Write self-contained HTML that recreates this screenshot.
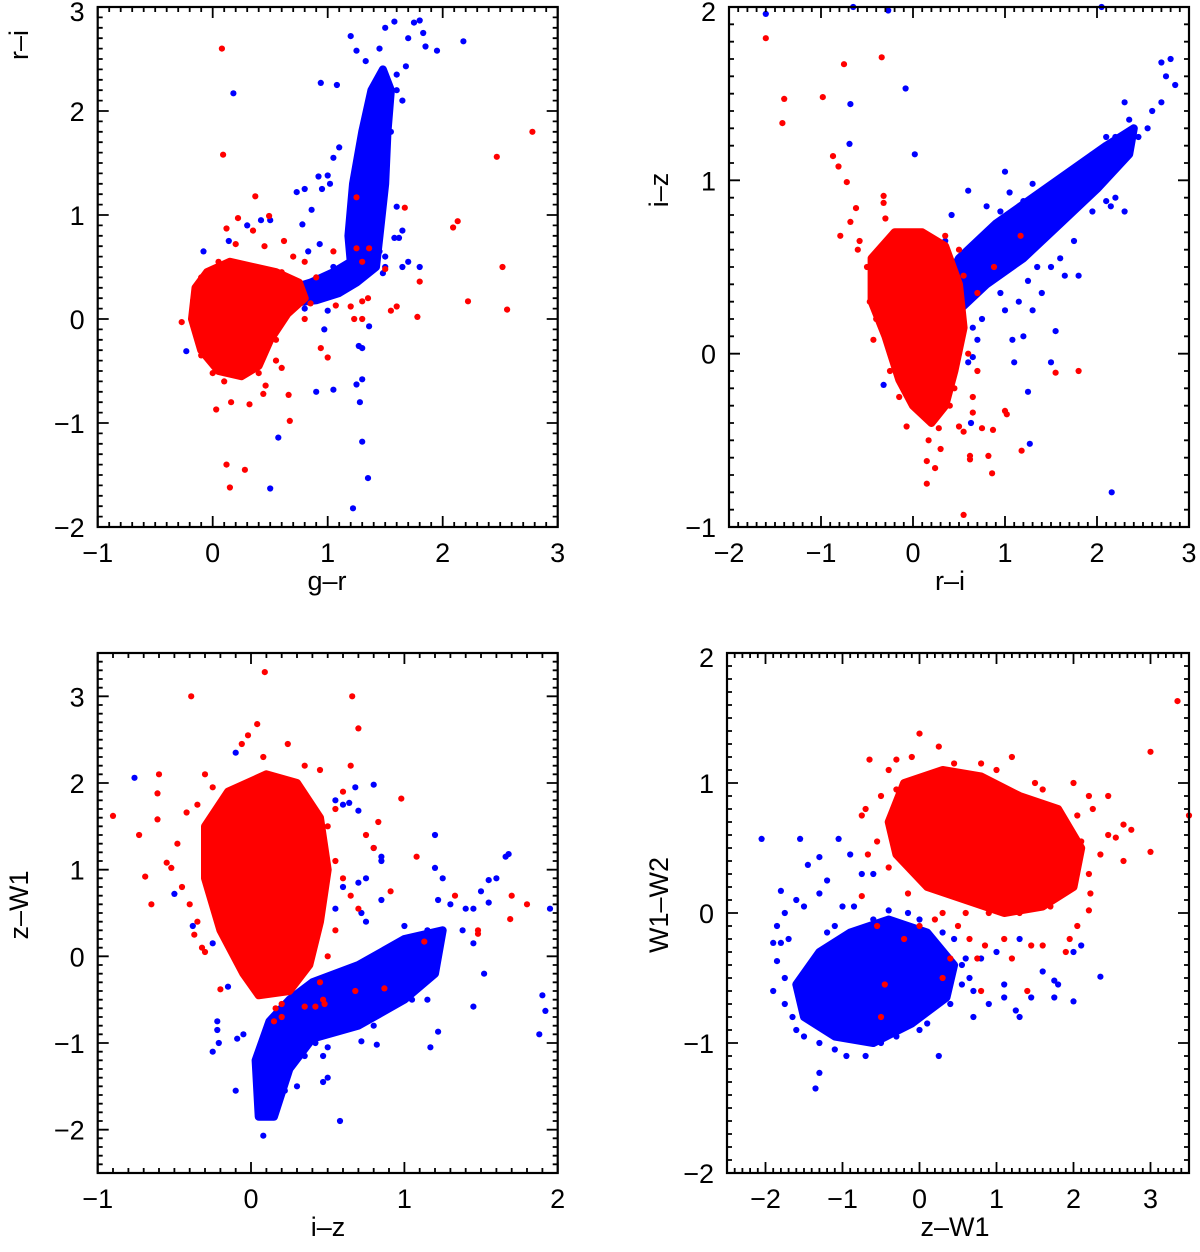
<!DOCTYPE html>
<html><head><meta charset="utf-8">
<style>
html,body{margin:0;padding:0;background:#fff;}
svg{display:block;font-family:"Liberation Sans",Arial,sans-serif;}
</style></head>
<body>
<svg id="fig" width="1200" height="1252" viewBox="0 0 1200 1252" xmlns="http://www.w3.org/2000/svg"></svg>
<script>
// ---------------- Panel 1: g-r vs r-i ----------------
const p1XTicks = [-1, 0, 1, 2, 3];
const p1YTicks = [-2, -1, 0, 1, 2, 3];
const p1RedCoreX = [-0.15,-0.05,0.15,0.35,0.55,0.75,0.8,0.65,0.5,0.4,0.25,0.05,-0.1,-0.18];
const p1RedCoreY = [0.3,0.45,0.55,0.5,0.45,0.35,0.2,0.05,-0.2,-0.45,-0.55,-0.5,-0.3,0.0];
const p1BlueCoreX = [0.65,0.9,1.1,1.25,1.42,1.45,1.5,1.52,1.55,1.48,1.38,1.3,1.22,1.18,1.2,1.05,0.85,0.7];
const p1BlueCoreY = [0.15,0.18,0.25,0.35,0.5,0.8,1.3,1.8,2.2,2.4,2.2,1.8,1.3,0.8,0.55,0.45,0.35,0.3];
const p1RedX = [0.08,0.09,0.37,0.49,1.67,2.13,2.09,2.47,2.78,2.52,2.22,2.56,1.78,1.8,1.6,1.55,1.5,1.35,1.3,1.3,1.23,1.2,1.07,1.05,1.25,1.25,1.36,1.3,-0.27,-0.17,0.03,0.16,0.32,0.66,0.67,0.12,0.28,0.15,0.44,0.46,1.0,0.94,0.6,0.55,0.8,0.85,0.75,0.9,0.7,0.62,0.35,0.12,0.22,0.2,0.45,-0.1,-0.12,-0.1,0.0,0.1,0.25,0.4,0.8,0.7,0.55,0.6,0.05,-0.05];
const p1RedY = [2.6,1.58,1.18,0.99,1.07,0.94,0.88,1.56,1.8,0.5,0.17,0.09,0.02,0.36,0.12,0.08,0.48,0.2,0.17,0.0,0.0,0.12,0.13,0.65,1.17,0.68,0.68,0.55,-0.03,0.18,-0.87,-0.8,-0.82,-0.73,-0.98,-1.4,-1.45,-1.62,-0.72,-0.64,-0.37,-0.28,-0.47,-0.4,0.0,0.15,0.35,0.4,0.6,0.75,0.85,0.87,0.97,0.72,0.7,0.4,-0.1,-0.35,-0.52,-0.6,-0.55,-0.52,0.55,0.1,-0.2,0.45,0.55,-0.3];
const p1BlueX = [0.18,0.94,1.08,1.2,1.25,1.33,1.45,1.5,1.58,1.7,1.75,1.8,1.83,1.85,1.95,2.18,1.68,1.6,1.6,1.65,1.55,1.1,1.05,1.0,0.92,0.8,0.73,0.86,0.95,1.02,1.6,1.65,1.62,1.58,1.8,1.7,1.65,1.5,1.48,0.5,0.42,0.3,0.14,-0.08,-0.12,-0.23,0.78,0.83,0.93,1.36,1.3,1.27,1.25,1.3,1.28,1.3,1.35,1.22,0.57,0.5,1.05,0.9,0.97,1.0,0.8,1.2,1.45,1.5,1.05,1.1,0.95];
const p1BlueY = [2.17,2.27,2.25,2.72,2.58,2.48,2.6,2.8,2.86,2.7,2.85,2.87,2.75,2.62,2.58,2.67,2.43,2.35,2.2,2.1,1.8,1.65,1.55,1.38,1.37,1.25,1.22,1.05,1.25,1.3,1.08,0.85,0.78,0.78,0.5,0.55,0.5,0.5,0.44,0.95,0.95,0.9,0.75,0.65,0.3,-0.31,0.91,0.65,0.72,-0.07,-0.28,-0.26,-0.63,-0.58,-0.8,-1.18,-1.53,-1.82,-1.14,-1.63,-0.68,-0.7,-0.1,0.08,0.1,0.6,0.65,0.6,0.5,0.3,0.3];

// ---------------- Panel 2: r-i vs i-z ----------------
const p2XTicks = [-2, -1, 0, 1, 2, 3];
const p2YTicks = [-1, 0, 1, 2];
const p2RedCoreX = [-0.45,-0.2,0.1,0.35,0.5,0.55,0.45,0.35,0.2,0.0,-0.15,-0.3,-0.45];
const p2RedCoreY = [0.55,0.7,0.7,0.62,0.4,0.15,-0.1,-0.3,-0.4,-0.3,-0.15,0.1,0.3];
const p2BlueCoreX = [0.4,0.8,1.2,1.6,2.0,2.35,2.4,2.1,1.7,1.3,0.9,0.5,0.35];
const p2BlueCoreY = [0.2,0.4,0.55,0.75,0.95,1.15,1.3,1.2,1.05,0.9,0.75,0.55,0.4];
const p2RedX = [-1.6,-1.4,-1.42,-0.98,-0.75,-0.34,-0.87,-0.81,-0.72,-0.32,-0.32,-0.62,-0.68,-0.79,-0.58,-0.6,-0.5,-0.45,-0.47,-0.4,-0.43,-0.3,-0.2,0.35,0.5,0.55,0.6,0.7,0.65,0.65,0.5,0.55,0.28,0.17,-0.07,0.15,0.24,0.15,0.62,0.62,0.82,0.86,0.55,0.75,0.87,1.0,1.02,1.18,1.55,1.8,1.17,0.88,0.7,0.4,0.45,-0.25,-0.15,0.3];
const p2RedY = [1.82,1.47,1.33,1.48,1.67,1.71,1.14,1.08,0.99,0.91,0.87,0.84,0.76,0.68,0.65,0.6,0.5,0.4,0.3,0.2,0.08,0.78,0.7,0.68,0.6,0.45,0.0,-0.1,-0.25,-0.34,-0.42,-0.45,-0.43,-0.5,-0.42,-0.62,-0.66,-0.75,-0.59,-0.61,-0.59,-0.69,-0.93,-0.43,-0.44,-0.33,-0.35,-0.56,-0.11,-0.1,0.68,0.5,0.35,-0.3,-0.2,-0.1,-0.25,-0.55];
const p2BlueX = [-1.6,-0.65,-0.27,2.05,-0.08,-0.68,-0.69,0.02,-0.32,0.6,0.42,0.35,0.8,0.95,1.0,1.3,1.05,1.2,1.6,1.75,1.6,1.65,1.5,1.8,1.35,1.25,1.4,1.3,1.15,1.0,1.2,1.55,1.08,1.1,1.5,1.25,0.95,0.75,0.65,0.7,0.65,0.6,0.5,1.27,0.63,2.16,2.2,2.3,2.15,2.1,1.95,2.1,1.95,2.3,2.6,2.7,2.75,2.85,2.7,2.8,2.55,2.45,2.2,2.35];
const p2BlueY = [1.96,2.0,1.98,2.0,1.53,1.44,1.21,1.15,-0.18,0.94,0.8,0.65,0.85,0.82,1.05,0.98,0.93,0.88,0.97,0.65,0.55,0.45,0.5,0.45,0.5,0.42,0.35,0.25,0.3,0.25,0.1,0.13,0.08,-0.05,-0.05,-0.22,0.35,0.2,0.15,0.08,-0.02,-0.05,0.0,-0.52,-0.4,-0.8,0.9,0.82,0.85,0.88,0.82,1.25,1.15,1.45,1.4,1.45,1.6,1.55,1.68,1.7,1.3,1.25,1.25,1.35];

// ---------------- Panel 3: i-z vs z-W1 ----------------
const p3XTicks = [-1, 0, 1, 2];
const p3YTicks = [-2, -1, 0, 1, 2, 3];
const p3RedCoreX = [-0.3,-0.15,0.1,0.3,0.45,0.5,0.45,0.38,0.25,0.05,-0.05,-0.2,-0.3];
const p3RedCoreY = [1.5,1.9,2.1,2.0,1.6,1.0,0.4,-0.1,-0.4,-0.45,-0.2,0.3,0.9];
const p3BlueCoreX = [0.05,0.15,0.25,0.4,0.7,1.0,1.2,1.25,1.0,0.7,0.4,0.25,0.12,0.03];
const p3BlueCoreY = [-1.85,-1.85,-1.3,-0.95,-0.8,-0.5,-0.2,0.3,0.2,-0.1,-0.3,-0.5,-0.75,-1.2];
const p3RedX = [0.09,-0.39,0.66,0.7,0.04,-0.02,-0.06,0.24,0.08,-0.6,-0.3,-0.9,-0.73,-0.61,-0.61,-0.42,-0.55,-0.52,-0.69,-0.65,-0.4,-0.37,-0.32,-0.3,0.98,0.83,0.75,0.8,1.08,0.91,0.65,0.6,0.55,0.5,0.55,0.6,0.65,0.7,0.55,0.5,0.45,1.8,1.7,1.69,1.48,1.48,1.33,1.13,0.87,0.68,0.48,0.42,0.47,0.35,0.2,0.16,0.2,0.15,-0.2,-0.22,-0.35,-0.45,-0.48,-0.35,-0.25,0.35,0.45];
const p3RedY = [3.28,3.0,3.0,2.63,2.68,2.55,2.45,2.45,2.3,2.1,2.1,1.62,1.4,1.88,1.58,1.66,1.08,1.02,0.92,0.6,0.6,0.25,0.1,0.05,1.82,1.55,1.4,1.25,1.15,0.75,2.2,1.9,1.7,1.5,1.1,0.9,0.7,0.55,0.3,0.0,-0.3,0.6,0.7,0.43,0.3,0.26,0.7,0.17,-0.37,-0.4,-0.55,-0.58,-0.5,-0.58,-0.55,-0.6,-0.7,-0.75,-0.38,0.4,0.4,0.8,1.3,1.75,1.95,2.2,2.15];
const p3BlueX = [-0.76,-0.1,0.8,0.68,0.64,0.7,0.6,0.55,0.8,0.85,0.85,0.7,0.75,0.6,0.55,0.85,0.75,0.72,-0.5,-0.38,-0.24,-0.25,-0.15,-0.22,-0.22,-0.21,-0.25,-0.09,-0.05,-0.1,0.08,0.58,0.47,0.5,0.47,0.3,0.22,0.2,1.2,1.2,1.25,1.66,1.68,1.6,1.55,1.5,1.55,1.45,1.4,1.3,1.22,1.38,1.45,1.15,1.0,1.95,1.9,1.92,1.88,1.45,1.52,1.15,1.05,1.22,1.17,0.82,0.72,0.8,0.9,0.35,0.42,0.5,0.6,0.5,1.05,1.1,0.95,0.85];
const p3BlueY = [2.06,2.35,1.98,1.95,1.77,1.68,1.75,1.8,1.25,1.15,1.1,0.85,0.9,0.8,0.55,0.65,0.4,0.5,0.72,0.35,0.55,0.15,-0.35,-0.75,-0.85,-1.0,-1.1,-0.95,-0.9,-1.55,-2.07,-1.9,-1.45,-1.4,-1.15,-1.5,-1.55,-1.3,1.4,1.02,0.9,1.15,1.18,0.9,0.88,0.75,0.62,0.55,0.55,0.6,0.65,0.3,0.15,0.3,0.35,0.55,-0.45,-0.63,-0.9,-0.58,-0.2,-0.5,-0.5,-0.87,-1.05,-1.02,-0.98,-0.8,-0.55,-1.15,-1.0,-1.05,-0.8,-0.8,0.05,0.2,-0.1,-0.3];

// ---------------- Panel 4: z-W1 vs W1-W2 ----------------
const p4XTicks = [-2, -1, 0, 1, 2, 3];
const p4YTicks = [-2, -1, 0, 1, 2];
const p4RedCoreX = [-0.4,-0.2,0.3,0.8,1.3,1.8,2.1,2.0,1.6,1.1,0.6,0.1,-0.3];
const p4RedCoreY = [0.7,1.0,1.1,1.05,0.9,0.8,0.5,0.2,0.05,0.0,0.1,0.2,0.45];
const p4BlueCoreX = [-1.6,-1.3,-0.9,-0.4,0.1,0.45,0.35,-0.1,-0.6,-1.1,-1.5];
const p4BlueCoreY = [-0.55,-0.3,-0.15,-0.05,-0.15,-0.4,-0.65,-0.85,-1.0,-0.95,-0.8];
const p4RedX = [3.35,3.0,3.5,3.0,2.75,2.65,2.65,2.55,2.45,2.45,2.2,2.25,2.35,2.2,2.22,2.2,2.05,1.95,1.9,1.6,1.45,1.4,1.1,1.2,0.85,0.75,0.8,0.65,0.4,0.3,0.2,0.0,-0.2,-0.45,-0.5,-0.55,-0.75,-0.67,-0.75,-0.7,-0.65,-0.5,-0.4,-0.3,-0.1,0.0,0.25,0.45,0.8,1.2,1.5,2.0,1.0,1.6,2.05,2.1,1.3,0.9,0.6,0.3,-0.15,-0.4,-0.55,-0.3,0.5,1.7];
const p4RedY = [1.63,1.24,0.75,0.47,0.64,0.68,0.4,0.58,0.6,0.9,0.9,0.8,0.45,0.3,0.15,0.02,-0.1,-0.2,-0.3,-0.25,-0.25,-0.6,-0.2,-0.35,-0.25,-0.35,-0.6,-0.2,-0.35,-0.5,-0.05,-0.1,-0.2,-0.55,-0.8,-0.1,0.13,0.45,0.75,0.8,1.18,0.9,1.1,1.18,1.2,1.38,1.28,1.15,1.15,1.2,1.0,1.0,1.1,0.95,0.75,0.55,0.0,0.0,0.0,0.0,0.15,0.35,0.55,0.95,-0.1,0.05];
const p4BlueX = [-2.05,-1.55,-1.05,-0.9,-0.75,-0.6,-1.3,-1.45,-1.2,-1.3,-1.8,-1.6,-1.5,-1.75,-1.85,-1.9,-1.8,-1.7,-1.85,-1.9,-1.75,-1.75,-1.65,-1.6,-1.5,-1.3,-1.1,-0.95,-1.35,-1.3,-0.7,-0.5,-0.3,0.0,0.1,0.25,0.4,0.55,0.7,0.7,0.9,1.1,1.1,1.3,1.25,1.45,1.75,1.8,2.0,2.35,1.75,1.6,2.0,2.1,1.3,1.0,0.8,0.6,0.45,-1.0,-0.85,-0.4,-0.15,0.0,0.3,-0.6,-1.1,-1.2,0.55,0.65];
const p4BlueY = [0.57,0.57,0.57,0.45,0.3,0.3,0.43,0.37,0.25,0.15,0.17,0.1,0.05,0.0,-0.1,-0.23,-0.23,-0.2,-0.37,-0.6,-0.5,-0.7,-0.8,-0.9,-0.95,-1.0,-1.05,-1.1,-1.35,-1.23,-1.1,-1.0,-0.95,-0.9,-0.85,-1.1,-0.7,-0.55,-0.6,-0.8,-0.7,-0.55,-0.65,-0.8,-0.75,-0.65,-0.65,-0.55,-0.68,-0.49,-0.52,-0.45,-0.3,-0.25,-0.2,-0.3,-0.35,-0.35,-0.2,0.05,0.05,0.02,0.0,-0.05,-0.15,-0.05,-0.1,-0.15,-0.4,-0.5];

const NS = 'http://www.w3.org/2000/svg';
const svg = document.getElementById('fig');
const RED = '#ff0000', BLUE = '#0000ff';

function mk(tag, attrs, parent) {
  const e = document.createElementNS(NS, tag);
  for (const k in attrs) e.setAttribute(k, attrs[k]);
  (parent || svg).appendChild(e);
  return e;
}
function fmt(v) { return v < 0 ? '\u2212' + Math.abs(v) : String(v); }

function panel(cfg) {
  const g = mk('g', {});
  
  
  const sx = v => cfg.L + (v - cfg.x0) / (cfg.x1 - cfg.x0) * (cfg.R - cfg.L);
  const sy = v => cfg.B - (v - cfg.y0) / (cfg.y1 - cfg.y0) * (cfg.B - cfg.T);

  const cores = [[cfg.bcx, cfg.bcy, BLUE, 'blue-dense-core'], [cfg.rcx, cfg.rcy, RED, 'red-dense-core']];
  const pts = [[cfg.bx, cfg.by, BLUE, 'blue-point'], [cfg.rx, cfg.ry, RED, 'red-point']];
  for (let s = 0; s < 2; s++) {
    const [cx, cy, col] = cores[s];
    const d = cx.map((v, i) => (i ? 'L' : 'M') + sx(v).toFixed(1) + ' ' + sy(cy[i]).toFixed(1)).join(' ') + ' Z';
    const p = mk('path', { d: d, fill: col, stroke: col, 'stroke-width': 8, 'stroke-linejoin': 'round' }, g);
    
    
    const [xs, ys] = pts[s];
    xs.forEach((v, i) => {
      const c = mk('circle', { cx: sx(v).toFixed(1), cy: sy(ys[i]).toFixed(1), r: 3.1, fill: col }, g);
      
      
    });
  }

  const fr = mk('rect', { x: cfg.L, y: cfg.T, width: cfg.R - cfg.L, height: cfg.B - cfg.T, fill: 'none', stroke: '#000', 'stroke-width': 2.2 }, g);
  
  

  let tp = '';
  for (let v = Math.ceil(cfg.x0 * 10); v <= Math.floor(cfg.x1 * 10); v++) {
    const x = sx(v / 10), len = (v % 10 === 0) ? 11 : 5;
    tp += `M${x.toFixed(1)} ${cfg.B}v${-len}M${x.toFixed(1)} ${cfg.T}v${len}`;
  }
  for (let v = Math.ceil(cfg.y0 * 10); v <= Math.floor(cfg.y1 * 10); v++) {
    const y = sy(v / 10), len = (v % 10 === 0) ? 11 : 5;
    tp += `M${cfg.L} ${y.toFixed(1)}h${len}M${cfg.R} ${y.toFixed(1)}h${-len}`;
  }
  const tk = mk('path', { d: tp, stroke: '#000', 'stroke-width': 1.8, fill: 'none' }, g);
  
  

  cfg.xt.forEach(v => {
    const t = mk('text', { x: sx(v), y: cfg.B + 35, 'font-size': 27, 'text-anchor': 'middle' }, g);
    t.textContent = fmt(v);
    
    
  });
  cfg.yt.forEach(v => {
    let y = sy(v) + 10;
    if (Math.abs(sy(v) - cfg.T) < 3) y += 4;
    const t = mk('text', { x: cfg.L - 13, y: y, 'font-size': 27, 'text-anchor': 'end' }, g);
    t.textContent = fmt(v);
    
    
  });
  const xt = mk('text', { x: cfg.xtx, y: cfg.B + 63, 'font-size': 27, 'text-anchor': 'middle' }, g);
  xt.textContent = cfg.xlab;
  
  
  const yt = mk('text', { x: 0, y: 0, 'font-size': 27, 'text-anchor': 'middle', transform: `translate(${cfg.ytx},${cfg.yty}) rotate(-90)` }, g);
  yt.textContent = cfg.ylab;
  
  
}

panel({ name: 'panel-gr-ri', L: 97.7, R: 557.7, T: 7, B: 527, x0: -1, x1: 3, y0: -2, y1: 3,
  xt: p1XTicks, yt: p1YTicks, xlab: 'g\u2013r', ylab: 'r\u2013i', xtx: 327, ytx: 28, yty: 45,
  rcx: p1RedCoreX, rcy: p1RedCoreY, bcx: p1BlueCoreX, bcy: p1BlueCoreY, rx: p1RedX, ry: p1RedY, bx: p1BlueX, by: p1BlueY });
panel({ name: 'panel-ri-iz', L: 729, R: 1189, T: 7, B: 527, x0: -2, x1: 3, y0: -1, y1: 2,
  xt: p2XTicks, yt: p2YTicks, xlab: 'r\u2013i', ylab: 'i\u2013z', xtx: 950, ytx: 668, yty: 190,
  rcx: p2RedCoreX, rcy: p2RedCoreY, bcx: p2BlueCoreX, bcy: p2BlueCoreY, rx: p2RedX, ry: p2RedY, bx: p2BlueX, by: p2BlueY });
panel({ name: 'panel-iz-zw1', L: 97.7, R: 557.7, T: 653, B: 1173, x0: -1, x1: 2, y0: -2.5, y1: 3.5,
  xt: p3XTicks, yt: p3YTicks, xlab: 'i\u2013z', ylab: 'z\u2013W1', xtx: 328, ytx: 28, yty: 905,
  rcx: p3RedCoreX, rcy: p3RedCoreY, bcx: p3BlueCoreX, bcy: p3BlueCoreY, rx: p3RedX, ry: p3RedY, bx: p3BlueX, by: p3BlueY });
panel({ name: 'panel-zw1-w1w2', L: 727, R: 1189, T: 653, B: 1173, x0: -2.5, x1: 3.5, y0: -2, y1: 2,
  xt: p4XTicks, yt: p4YTicks, xlab: 'z\u2013W1', ylab: 'W1\u2013W2', xtx: 955, ytx: 668, yty: 905,
  rcx: p4RedCoreX, rcy: p4RedCoreY, bcx: p4BlueCoreX, bcy: p4BlueCoreY, rx: p4RedX, ry: p4RedY, bx: p4BlueX, by: p4BlueY });
</script>
</body></html>
